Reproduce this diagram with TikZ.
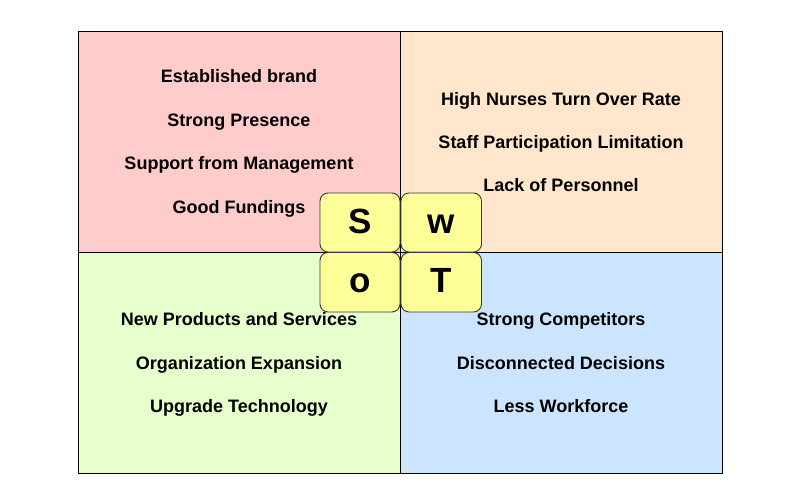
\documentclass[tikz,border=0pt]{standalone}
\usepackage{fontspec}
\setmainfont{Liberation Sans}
\definecolor{qred}{HTML}{FFCCCC}
\definecolor{qorange}{HTML}{FFE6CC}
\definecolor{qgreen}{HTML}{E6FFCC}
\definecolor{qblue}{HTML}{CCE5FF}
\definecolor{letterfill}{HTML}{FFFF99}
\definecolor{edge}{HTML}{36393D}
\tikzset{
  quad/.style={draw=black, line width=0.9pt},
  item/.style={anchor=base, font=\fontsize{18}{21}\selectfont\bfseries, inner sep=0pt},
  letterbox/.style={draw=edge, fill=letterfill, line width=0.9pt, rounded corners=8pt},
  letter/.style={anchor=base, font=\fontsize{35}{40}\selectfont\bfseries, inner sep=0pt}
}
\begin{document}
\begin{tikzpicture}[x=1pt,y=-1pt]
\useasboundingbox (0,0) rectangle (800,501);
% quadrants
\path[quad, fill=qred] (78.5,31) rectangle (400,252);
\path[quad, fill=qorange] (400,31) rectangle (722.5,252);
\path[quad, fill=qgreen] (78.5,252) rectangle (400,473);
\path[quad, fill=qblue] (400,252) rectangle (722.5,473);
% strengths
\node[item] (s1) at (239,82.7) {Established brand};
\node[item] (s2) at (239,126.2) {Strong Presence};
\node[item] (s3) at (239,169.7) {Support from Management};
\node[item] (s4) at (239,213.2) {Good Fundings};
% weaknesses
\node[item] (w1) at (561,105.7) {High Nurses Turn Over Rate};
\node[item] (w2) at (561,148.8) {Staff Participation Limitation};
\node[item] (w3) at (561,191.9) {Lack of Personnel};
% opportunities
\node[item] (o1) at (239,325.7) {New Products and Services};
\node[item] (o2) at (239,369) {Organization Expansion};
\node[item] (o3) at (239,412.3) {Upgrade Technology};
% threats
\node[item] (t1) at (561,325.7) {Strong Competitors};
\node[item] (t2) at (561,369) {Disconnected Decisions};
\node[item] (t3) at (561,412.3) {Less Workforce};
% letter boxes
\draw[letterbox] (320,193) rectangle (400,252);
\draw[letterbox] (401,193) rectangle (481.5,252);
\draw[letterbox] (320,252.5) rectangle (400,312);
\draw[letterbox] (401,252.5) rectangle (481.5,312);
\node[letter] (S) at (360,233) {S};
\node[letter] (W) at (441,233) {w};
\node[letter] (O) at (360,292) {o};
\node[letter] (T) at (441,292) {T};
\end{tikzpicture}
\end{document}
